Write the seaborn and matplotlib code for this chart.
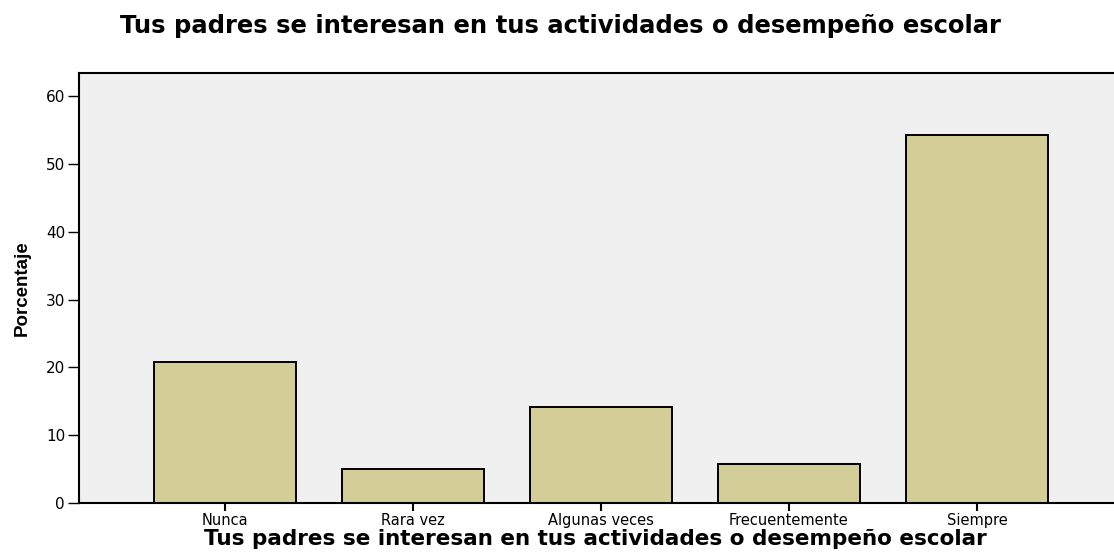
import pandas as pd
import matplotlib
matplotlib.use('Agg')
import matplotlib.pyplot as plt
import seaborn as sns

# data
categorias = ['Nunca', 'Rara vez', 'Algunas veces', 'Frecuentemente', 'Siempre']
porcentaje = [20.8, 5.0, 14.2, 5.8, 54.2]
y_ticks = [0, 10, 20, 30, 40, 50, 60]
titulo = 'Tus padres se interesan en tus actividades o desempeño escolar'

df = pd.DataFrame({'categoria': categorias, 'porcentaje': porcentaje})

sns.set_style('white')
plt.rcParams['font.family'] = ['DejaVu Sans']
plt.rcParams.update({'text.color': 'black', 'axes.labelcolor': 'black',
                     'xtick.color': 'black', 'ytick.color': 'black'})

fig = plt.figure(figsize=(11.14, 5.54), dpi=100)
ax = fig.add_axes([0.0709, 0.0921, 0.9291, 0.7761])
ax.set_facecolor('#F0F0F0')

sns.barplot(data=df, x='categoria', y='porcentaje', color='#D3CE97',
            edgecolor='black', linewidth=1.4, width=0.755, saturation=1, ax=ax)

ax.set_xlim(-0.777, 4.729)
ax.set_ylim(0, 63.4)
ax.set_yticks(y_ticks)
ax.tick_params(axis='y', length=8, width=1, direction='out', labelsize=11, left=True, pad=2)
ax.tick_params(axis='x', length=6, width=1.5, direction='out', labelsize=10.5, bottom=True, pad=1)

for side in ['left', 'bottom', 'top']:
    ax.spines[side].set_color('black')
    ax.spines[side].set_linewidth(1.5)
ax.spines['right'].set_visible(False)

ax.set_xlabel(titulo, fontsize=15.5, fontweight='bold')
ax.xaxis.set_label_coords(0.499, -0.061)
ax.set_ylabel('Porcentaje', fontsize=13.5, fontweight='bold',
              family=['Liberation Sans Narrow', 'Liberation Sans'])
ax.yaxis.set_label_coords(-0.047, 0.5)
fig.text(0.503, 0.953, titulo, ha='center', va='center', fontsize=17.5, fontweight='bold')

fig.savefig('out.png', dpi=100)
